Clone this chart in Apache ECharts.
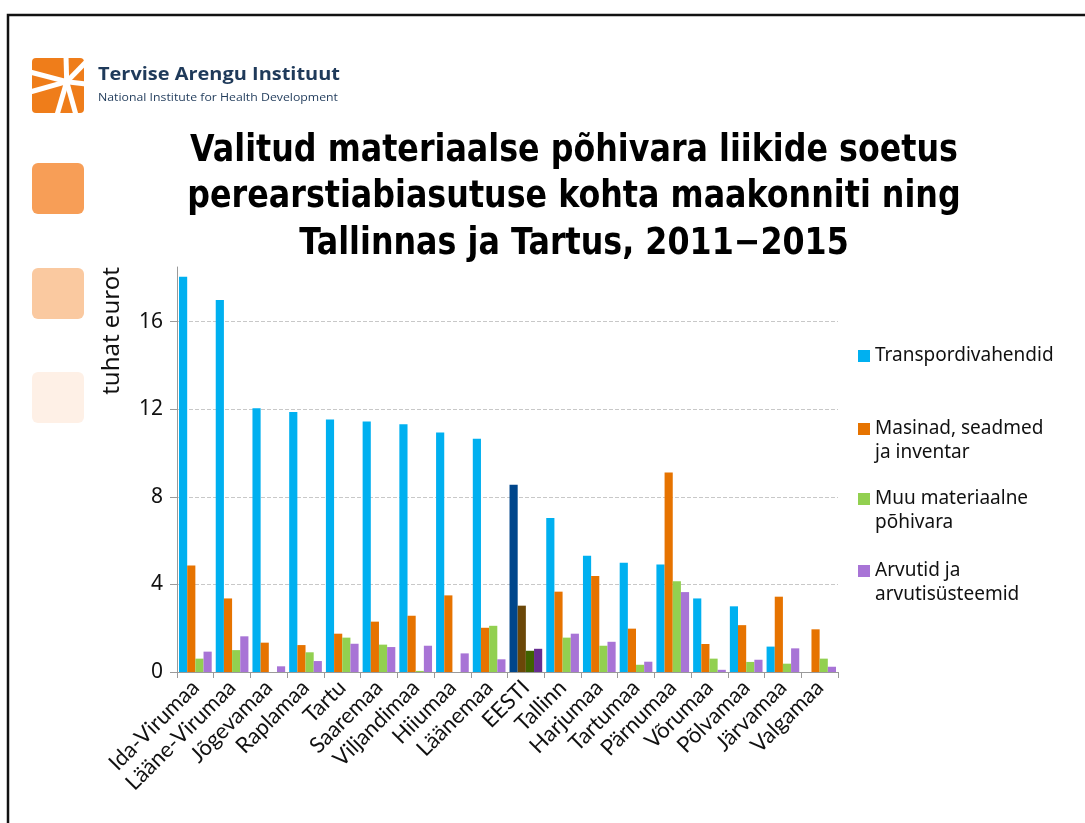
<!DOCTYPE html>
<html>
<head>
<meta charset="utf-8">
<script src="https://cdn.jsdelivr.net/npm/echarts@6/dist/echarts.min.js"></script>
<style>
html,body{margin:0;padding:0;background:#fff;}
#chart{width:1085px;height:823px;}
</style>
</head>
<body>
<div id="chart"></div>
<script>
// ---- data ----
const categories = ['Ida-Virumaa','Lääne-Virumaa','Jõgevamaa','Raplamaa','Tartu','Saaremaa','Viljandimaa','Hiiumaa','Läänemaa','EESTI','Tallinn','Harjumaa','Tartumaa','Pärnumaa','Võrumaa','Põlvamaa','Järvamaa','Valgamaa'];
const seriesNames = ['Transpordivahendid','Masinad, seadmed ja inventar','Muu materiaalne põhivara','Arvutid ja arvutisüsteemid'];
const legendLines = ['Transpordivahendid','Masinad, seadmed\nja inventar','Muu materiaalne\npõhivara','Arvutid ja\narvutisüsteemid'];
const transpordivahendid = [18.06,16.99,12.05,11.88,11.53,11.44,11.32,10.94,10.65,8.55,7.04,5.31,4.99,4.91,3.36,3.00,1.16,0];
const masinad = [4.87,3.36,1.34,1.23,1.75,2.30,2.57,3.50,2.02,3.03,3.67,4.38,1.98,9.11,1.28,2.14,3.44,1.95];
const muu = [0.61,1.00,0,0.90,1.57,1.25,0.05,0,2.11,0.97,1.57,1.20,0.33,4.14,0.61,0.46,0.38,0.61];
const arvutid = [0.93,1.63,0.26,0.50,1.29,1.14,1.20,0.85,0.58,1.06,1.75,1.38,0.47,3.65,0.10,0.56,1.08,0.24];
const yTicks = [0,4,8,12,16];
const titleLines = ['Valitud materiaalse põhivara liikide soetus','perearstiabiasutuse kohta maakonniti ning','Tallinnas ja Tartus, 2011−2015'];
const yAxisName = 'tuhat eurot';
const logoTitle = 'Tervise Arengu Instituut';
const logoSub = 'National Institute for Health Development';
const highlightCategory = 'EESTI';

// ---- styles ----
const colors = ['#00B0F0','#E67300','#92D050','#A874D6'];
const highlightColors = ['#00468B','#6B4708','#3F6300','#662D91'];
const values = [transpordivahendid, masinad, muu, arvutid];

const ctx = document.createElement('canvas').getContext('2d');
function scaleFor(text, font, target){ ctx.font = font; return target / ctx.measureText(text).width; }

const titleFont = 'bold 37px "DejaVu Sans"';
const titleScale = scaleFor(titleLines[0], titleFont, 768);
const logoFont = 'bold 18px "Open Sans"';
const logoSubFont = '11px "Open Sans"';

const chart = echarts.init(document.getElementById('chart'), null, {renderer:'canvas'});
const hi = categories.indexOf(highlightCategory);

const series = seriesNames.map((name, si) => ({
  name: name,
  type: 'bar',
  barGap: '0%',
  barCategoryGap: '11%',
  itemStyle: {color: colors[si]},
  data: values[si].map((v, i) => i === hi ? {value: v, itemStyle: {color: highlightColors[si]}} : v)
}));

// multi-line legend entries get a blank leading line so the icon sits at the first text line
const legendTops = [344, 393, 463, 535];
const legends = seriesNames.map((name, i) => ({
  data: [{name: name, itemStyle: {color: colors[i]}}],
  left: 858,
  top: legendTops[i],
  padding: 0,
  itemWidth: 12,
  itemHeight: 12,
  icon: 'rect',
  selectedMode: false,
  formatter: () => legendLines[i].indexOf('\n') >= 0 ? ' \n' + legendLines[i] : legendLines[i],
  textStyle: {fontFamily: 'Noto Sans', fontSize: 19, lineHeight: 24, color: '#111'}
}));

const rays = [[66,56],[86,62],[86,84],[76,115],[57,115],[30,92],[30,72]];
const center = [66.7, 81.7];

const graphics = [
  {type:'polyline', shape:{points:[[8,823],[8,15],[1085,15]]}, style:{stroke:'#111', lineWidth:2.5, fill:null}},
  {type:'rect', shape:{x:32,y:58,width:52,height:55,r:4}, style:{fill:'#EF7D1A'}},
  ...rays.map(p => ({type:'line', shape:{x1:center[0],y1:center[1],x2:p[0],y2:p[1]}, style:{stroke:'#fff', lineWidth:5}})),
  {type:'circle', shape:{cx:center[0], cy:center[1], r:4}, style:{fill:'#fff'}},
  {type:'text', x:98, y:75, scaleX: scaleFor(logoTitle, logoFont, 242), style:{text:logoTitle, font:logoFont, fill:'#1F3A5A', align:'left', verticalAlign:'middle'}},
  {type:'text', x:98, y:98, scaleX: scaleFor(logoSub, logoSubFont, 240), style:{text:logoSub, font:logoSubFont, fill:'#1F3A5A', align:'left', verticalAlign:'middle'}},
  {type:'rect', shape:{x:32,y:163,width:52,height:51,r:6}, style:{fill:'#F79E57'}},
  {type:'rect', shape:{x:32,y:268,width:52,height:51,r:6}, style:{fill:'#FAC9A0'}},
  {type:'rect', shape:{x:32,y:372,width:52,height:51,r:6}, style:{fill:'#FEF0E6'}},
  ...titleLines.map((t, i) => ({type:'text', x:574, y:151 + i*46.5, scaleX: titleScale,
     style:{text:t, font:titleFont, fill:'#000', align:'center', verticalAlign:'middle'}})),
  {type:'text', x:112, y:331, rotation: Math.PI/2,
     style:{text:yAxisName, font:'24px "Noto Sans"', fill:'#111', align:'center', verticalAlign:'middle'}}
];

chart.setOption({
  animation: false,
  backgroundColor: '#fff',
  grid: {left:177, right:247, top:267, bottom:151, containLabel:false},
  legend: legends,
  xAxis: {
    type: 'category',
    data: categories,
    axisLine: {lineStyle:{color:'#9a9a9a', width:1}},
    axisTick: {show:true, length:6, lineStyle:{color:'#9a9a9a'}},
    axisLabel: {interval:0, rotate:45, margin:12, fontFamily:'Lato', fontSize:22, color:'#111'}
  },
  yAxis: {
    type: 'value',
    min: yTicks[0], max: 18.5, interval: 4,
    axisLine: {show:true, lineStyle:{color:'#9a9a9a'}},
    axisTick: {show:true, length:7, lineStyle:{color:'#9a9a9a'}},
    axisLabel: {showMaxLabel:false, margin:14, fontFamily:'Noto Sans', fontSize:21, color:'#111'},
    splitLine: {show:true, lineStyle:{type:[4,2], width:1, color:['#c8c8c8','#c8c8c8','#c8c8c8','#c8c8c8','#c8c8c8','rgba(0,0,0,0)']}}
  },
  series: series,
  graphic: graphics
});
</script>
</body>
</html>
